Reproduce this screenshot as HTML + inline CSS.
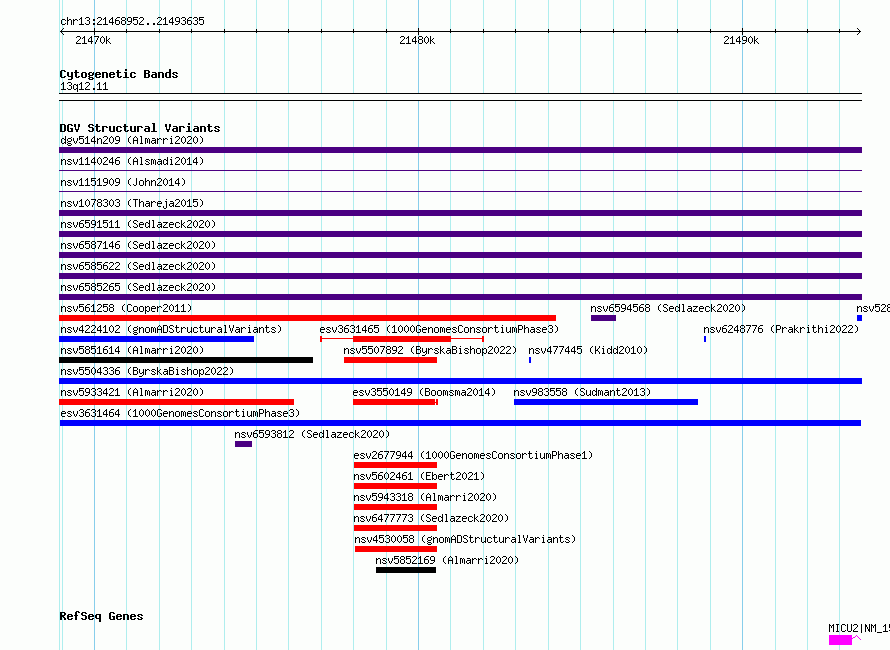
<!DOCTYPE html>
<html><head><meta charset="utf-8"><title>GBrowse</title>
<style>
html,body{margin:0;padding:0;background:#fcfefc;overflow:hidden;}
body{width:890px;height:650px;overflow:hidden;}
svg{display:block;}
svg text{font-family:"Liberation Mono",monospace;fill:transparent;white-space:pre;}
</style></head><body>
<svg width="890" height="650" viewBox="0 0 890 650" shape-rendering="crispEdges">
<defs>
<path id="s63" d="M1 5h3v1h-3zM0 6h1v1h-1zM4 6h1v1h-1zM0 7h1v1h-1zM0 8h1v1h-1zM0 9h1v1h-1zM4 9h1v1h-1zM1 10h3v1h-3z"/>
<path id="s68" d="M0 3h1v1h-1zM0 4h1v1h-1zM0 5h1v1h-1zM2 5h2v1h-2zM0 6h2v1h-2zM4 6h1v1h-1zM0 7h1v1h-1zM4 7h1v1h-1zM0 8h1v1h-1zM4 8h1v1h-1zM0 9h1v1h-1zM4 9h1v1h-1zM0 10h1v1h-1zM4 10h1v1h-1z"/>
<path id="s72" d="M0 5h1v1h-1zM2 5h2v1h-2zM0 6h2v1h-2zM4 6h1v1h-1zM0 7h1v1h-1zM0 8h1v1h-1zM0 9h1v1h-1zM0 10h1v1h-1z"/>
<path id="s31" d="M2 3h1v1h-1zM1 4h2v1h-2zM0 5h1v1h-1zM2 5h1v1h-1zM2 6h1v1h-1zM2 7h1v1h-1zM2 8h1v1h-1zM2 9h1v1h-1zM0 10h5v1h-5z"/>
<path id="s33" d="M1 3h3v1h-3zM0 4h1v1h-1zM4 4h1v1h-1zM4 5h1v1h-1zM2 6h2v1h-2zM4 7h1v1h-1zM4 8h1v1h-1zM0 9h1v1h-1zM4 9h1v1h-1zM1 10h3v1h-3z"/>
<path id="s3a" d="M2 5h2v1h-2zM2 6h2v1h-2zM2 9h2v1h-2zM2 10h2v1h-2z"/>
<path id="s32" d="M1 3h3v1h-3zM0 4h1v1h-1zM4 4h1v1h-1zM4 5h1v1h-1zM3 6h1v1h-1zM2 7h1v1h-1zM1 8h1v1h-1zM0 9h1v1h-1zM0 10h5v1h-5z"/>
<path id="s34" d="M3 3h1v1h-1zM2 4h2v1h-2zM1 5h1v1h-1zM3 5h1v1h-1zM0 6h1v1h-1zM3 6h1v1h-1zM0 7h1v1h-1zM3 7h1v1h-1zM0 8h5v1h-5zM3 9h1v1h-1zM3 10h1v1h-1z"/>
<path id="s36" d="M2 3h3v1h-3zM1 4h1v1h-1zM0 5h1v1h-1zM0 6h4v1h-4zM0 7h1v1h-1zM4 7h1v1h-1zM0 8h1v1h-1zM4 8h1v1h-1zM0 9h1v1h-1zM4 9h1v1h-1zM1 10h3v1h-3z"/>
<path id="s38" d="M1 3h3v1h-3zM0 4h1v1h-1zM4 4h1v1h-1zM0 5h1v1h-1zM4 5h1v1h-1zM1 6h3v1h-3zM0 7h1v1h-1zM4 7h1v1h-1zM0 8h1v1h-1zM4 8h1v1h-1zM0 9h1v1h-1zM4 9h1v1h-1zM1 10h3v1h-3z"/>
<path id="s39" d="M1 3h3v1h-3zM0 4h1v1h-1zM4 4h1v1h-1zM0 5h1v1h-1zM4 5h1v1h-1zM0 6h1v1h-1zM4 6h1v1h-1zM1 7h4v1h-4zM4 8h1v1h-1zM3 9h1v1h-1zM0 10h3v1h-3z"/>
<path id="s35" d="M0 3h5v1h-5zM0 4h1v1h-1zM0 5h4v1h-4zM0 6h1v1h-1zM4 6h1v1h-1zM4 7h1v1h-1zM4 8h1v1h-1zM0 9h1v1h-1zM4 9h1v1h-1zM1 10h3v1h-3z"/>
<path id="s2e" d="M2 9h2v1h-2zM2 10h2v1h-2z"/>
<path id="s37" d="M0 3h5v1h-5zM4 4h1v1h-1zM3 5h1v1h-1zM3 6h1v1h-1zM2 7h1v1h-1zM2 8h1v1h-1zM1 9h1v1h-1zM1 10h1v1h-1z"/>
<path id="s30" d="M2 3h1v1h-1zM1 4h1v1h-1zM3 4h1v1h-1zM0 5h1v1h-1zM4 5h1v1h-1zM0 6h1v1h-1zM4 6h1v1h-1zM0 7h1v1h-1zM4 7h1v1h-1zM0 8h1v1h-1zM4 8h1v1h-1zM1 9h1v1h-1zM3 9h1v1h-1zM2 10h1v1h-1z"/>
<path id="s6b" d="M0 3h1v1h-1zM0 4h1v1h-1zM0 5h1v1h-1zM3 5h1v1h-1zM0 6h1v1h-1zM2 6h1v1h-1zM0 7h2v1h-2zM0 8h1v1h-1zM2 8h1v1h-1zM0 9h1v1h-1zM3 9h1v1h-1zM0 10h1v1h-1zM4 10h1v1h-1z"/>
<path id="b43" d="M1 3h4v1h-4zM0 4h2v1h-2zM4 4h2v1h-2zM0 5h2v1h-2zM0 6h2v1h-2zM0 7h2v1h-2zM0 8h2v1h-2zM0 9h2v1h-2zM4 9h2v1h-2zM1 10h4v1h-4z"/>
<path id="b79" d="M0 5h2v1h-2zM4 5h2v1h-2zM0 6h2v1h-2zM4 6h2v1h-2zM0 7h2v1h-2zM4 7h2v1h-2zM0 8h2v1h-2zM4 8h2v1h-2zM1 9h5v1h-5zM4 10h2v1h-2zM4 11h2v1h-2zM1 12h4v1h-4z"/>
<path id="b74" d="M1 3h2v1h-2zM1 4h2v1h-2zM0 5h5v1h-5zM1 6h2v1h-2zM1 7h2v1h-2zM1 8h2v1h-2zM1 9h2v1h-2zM4 9h2v1h-2zM2 10h3v1h-3z"/>
<path id="b6f" d="M1 5h4v1h-4zM0 6h2v1h-2zM4 6h2v1h-2zM0 7h2v1h-2zM4 7h2v1h-2zM0 8h2v1h-2zM4 8h2v1h-2zM0 9h2v1h-2zM4 9h2v1h-2zM1 10h4v1h-4z"/>
<path id="b67" d="M1 5h3v1h-3zM5 5h1v1h-1zM0 6h2v1h-2zM4 6h2v1h-2zM0 7h2v1h-2zM4 7h2v1h-2zM1 8h4v1h-4zM0 9h2v1h-2zM1 10h4v1h-4zM0 11h2v1h-2zM4 11h2v1h-2zM1 12h4v1h-4z"/>
<path id="b65" d="M1 5h4v1h-4zM0 6h2v1h-2zM4 6h2v1h-2zM0 7h6v1h-6zM0 8h2v1h-2zM0 9h2v1h-2zM4 9h2v1h-2zM1 10h4v1h-4z"/>
<path id="b6e" d="M0 5h5v1h-5zM0 6h2v1h-2zM4 6h2v1h-2zM0 7h2v1h-2zM4 7h2v1h-2zM0 8h2v1h-2zM4 8h2v1h-2zM0 9h2v1h-2zM4 9h2v1h-2zM0 10h2v1h-2zM4 10h2v1h-2z"/>
<path id="b69" d="M2 2h2v1h-2zM2 3h2v1h-2zM1 5h3v1h-3zM2 6h2v1h-2zM2 7h2v1h-2zM2 8h2v1h-2zM2 9h2v1h-2zM0 10h6v1h-6z"/>
<path id="b63" d="M1 5h4v1h-4zM0 6h2v1h-2zM4 6h2v1h-2zM0 7h2v1h-2zM0 8h2v1h-2zM0 9h2v1h-2zM4 9h2v1h-2zM1 10h4v1h-4z"/>
<path id="b42" d="M0 3h5v1h-5zM0 4h2v1h-2zM4 4h2v1h-2zM0 5h2v1h-2zM4 5h2v1h-2zM0 6h5v1h-5zM0 7h2v1h-2zM4 7h2v1h-2zM0 8h2v1h-2zM4 8h2v1h-2zM0 9h2v1h-2zM4 9h2v1h-2zM0 10h5v1h-5z"/>
<path id="b61" d="M1 5h4v1h-4zM4 6h2v1h-2zM1 7h5v1h-5zM0 8h2v1h-2zM4 8h2v1h-2zM0 9h2v1h-2zM4 9h2v1h-2zM1 10h5v1h-5z"/>
<path id="b64" d="M4 2h2v1h-2zM4 3h2v1h-2zM4 4h2v1h-2zM1 5h5v1h-5zM0 6h2v1h-2zM4 6h2v1h-2zM0 7h2v1h-2zM4 7h2v1h-2zM0 8h2v1h-2zM4 8h2v1h-2zM0 9h2v1h-2zM4 9h2v1h-2zM1 10h5v1h-5z"/>
<path id="b73" d="M1 5h4v1h-4zM0 6h2v1h-2zM4 6h2v1h-2zM1 7h2v1h-2zM3 8h2v1h-2zM0 9h2v1h-2zM4 9h2v1h-2zM1 10h4v1h-4z"/>
<path id="s71" d="M1 5h2v1h-2zM4 5h1v1h-1zM0 6h1v1h-1zM3 6h2v1h-2zM0 7h1v1h-1zM4 7h1v1h-1zM0 8h1v1h-1zM4 8h1v1h-1zM0 9h1v1h-1zM3 9h2v1h-2zM1 10h2v1h-2zM4 10h1v1h-1zM4 11h1v1h-1zM4 12h1v1h-1z"/>
<path id="b44" d="M0 3h5v1h-5zM0 4h2v1h-2zM4 4h2v1h-2zM0 5h2v1h-2zM4 5h2v1h-2zM0 6h2v1h-2zM4 6h2v1h-2zM0 7h2v1h-2zM4 7h2v1h-2zM0 8h2v1h-2zM4 8h2v1h-2zM0 9h2v1h-2zM4 9h2v1h-2zM0 10h5v1h-5z"/>
<path id="b47" d="M1 3h4v1h-4zM0 4h2v1h-2zM4 4h2v1h-2zM0 5h2v1h-2zM0 6h2v1h-2zM0 7h2v1h-2zM3 7h3v1h-3zM0 8h2v1h-2zM4 8h2v1h-2zM0 9h2v1h-2zM4 9h2v1h-2zM1 10h5v1h-5z"/>
<path id="b56" d="M0 3h2v1h-2zM4 3h2v1h-2zM0 4h2v1h-2zM4 4h2v1h-2zM0 5h2v1h-2zM4 5h2v1h-2zM1 6h1v1h-1zM4 6h1v1h-1zM1 7h1v1h-1zM4 7h1v1h-1zM1 8h4v1h-4zM2 9h2v1h-2zM2 10h2v1h-2z"/>
<path id="b53" d="M1 3h4v1h-4zM0 4h2v1h-2zM4 4h2v1h-2zM0 5h2v1h-2zM1 6h4v1h-4zM4 7h2v1h-2zM4 8h2v1h-2zM0 9h2v1h-2zM4 9h2v1h-2zM1 10h4v1h-4z"/>
<path id="b72" d="M0 5h5v1h-5zM0 6h2v1h-2zM4 6h2v1h-2zM0 7h2v1h-2zM0 8h2v1h-2zM0 9h2v1h-2zM0 10h2v1h-2z"/>
<path id="b75" d="M0 5h2v1h-2zM4 5h2v1h-2zM0 6h2v1h-2zM4 6h2v1h-2zM0 7h2v1h-2zM4 7h2v1h-2zM0 8h2v1h-2zM4 8h2v1h-2zM0 9h2v1h-2zM4 9h2v1h-2zM1 10h5v1h-5z"/>
<path id="b6c" d="M1 2h3v1h-3zM2 3h2v1h-2zM2 4h2v1h-2zM2 5h2v1h-2zM2 6h2v1h-2zM2 7h2v1h-2zM2 8h2v1h-2zM2 9h2v1h-2zM0 10h6v1h-6z"/>
<path id="s64" d="M4 3h1v1h-1zM4 4h1v1h-1zM1 5h2v1h-2zM4 5h1v1h-1zM0 6h1v1h-1zM3 6h2v1h-2zM0 7h1v1h-1zM4 7h1v1h-1zM0 8h1v1h-1zM4 8h1v1h-1zM0 9h1v1h-1zM3 9h2v1h-2zM1 10h2v1h-2zM4 10h1v1h-1z"/>
<path id="s67" d="M4 4h1v1h-1zM1 5h3v1h-3zM0 6h1v1h-1zM4 6h1v1h-1zM0 7h1v1h-1zM4 7h1v1h-1zM1 8h3v1h-3zM0 9h1v1h-1zM1 10h3v1h-3zM0 11h1v1h-1zM4 11h1v1h-1zM1 12h3v1h-3z"/>
<path id="s76" d="M0 5h1v1h-1zM4 5h1v1h-1zM0 6h1v1h-1zM4 6h1v1h-1zM0 7h1v1h-1zM4 7h1v1h-1zM1 8h1v1h-1zM3 8h1v1h-1zM1 9h1v1h-1zM3 9h1v1h-1zM2 10h1v1h-1z"/>
<path id="s6e" d="M0 5h1v1h-1zM2 5h2v1h-2zM0 6h2v1h-2zM4 6h1v1h-1zM0 7h1v1h-1zM4 7h1v1h-1zM0 8h1v1h-1zM4 8h1v1h-1zM0 9h1v1h-1zM4 9h1v1h-1zM0 10h1v1h-1zM4 10h1v1h-1z"/>
<path id="s28" d="M3 3h1v1h-1zM2 4h1v1h-1zM1 5h1v1h-1zM1 6h1v1h-1zM1 7h1v1h-1zM1 8h1v1h-1zM2 9h1v1h-1zM3 10h1v1h-1z"/>
<path id="s41" d="M2 3h1v1h-1zM1 4h1v1h-1zM3 4h1v1h-1zM0 5h1v1h-1zM4 5h1v1h-1zM0 6h1v1h-1zM4 6h1v1h-1zM0 7h5v1h-5zM0 8h1v1h-1zM4 8h1v1h-1zM0 9h1v1h-1zM4 9h1v1h-1zM0 10h1v1h-1zM4 10h1v1h-1z"/>
<path id="s6c" d="M1 3h2v1h-2zM2 4h1v1h-1zM2 5h1v1h-1zM2 6h1v1h-1zM2 7h1v1h-1zM2 8h1v1h-1zM2 9h1v1h-1zM1 10h3v1h-3z"/>
<path id="s6d" d="M0 5h2v1h-2zM3 5h1v1h-1zM0 6h1v1h-1zM2 6h1v1h-1zM4 6h1v1h-1zM0 7h1v1h-1zM2 7h1v1h-1zM4 7h1v1h-1zM0 8h1v1h-1zM2 8h1v1h-1zM4 8h1v1h-1zM0 9h1v1h-1zM2 9h1v1h-1zM4 9h1v1h-1zM0 10h1v1h-1zM4 10h1v1h-1z"/>
<path id="s61" d="M1 5h3v1h-3zM4 6h1v1h-1zM1 7h4v1h-4zM0 8h1v1h-1zM4 8h1v1h-1zM0 9h1v1h-1zM3 9h2v1h-2zM1 10h2v1h-2zM4 10h1v1h-1z"/>
<path id="s69" d="M2 3h1v1h-1zM1 5h2v1h-2zM2 6h1v1h-1zM2 7h1v1h-1zM2 8h1v1h-1zM2 9h1v1h-1zM1 10h3v1h-3z"/>
<path id="s29" d="M1 3h1v1h-1zM2 4h1v1h-1zM3 5h1v1h-1zM3 6h1v1h-1zM3 7h1v1h-1zM3 8h1v1h-1zM2 9h1v1h-1zM1 10h1v1h-1z"/>
<path id="s73" d="M1 5h3v1h-3zM0 6h1v1h-1zM4 6h1v1h-1zM1 7h2v1h-2zM3 8h1v1h-1zM0 9h1v1h-1zM4 9h1v1h-1zM1 10h3v1h-3z"/>
<path id="s4a" d="M3 3h1v1h-1zM3 4h1v1h-1zM3 5h1v1h-1zM3 6h1v1h-1zM3 7h1v1h-1zM3 8h1v1h-1zM0 9h1v1h-1zM3 9h1v1h-1zM1 10h2v1h-2z"/>
<path id="s6f" d="M1 5h3v1h-3zM0 6h1v1h-1zM4 6h1v1h-1zM0 7h1v1h-1zM4 7h1v1h-1zM0 8h1v1h-1zM4 8h1v1h-1zM0 9h1v1h-1zM4 9h1v1h-1zM1 10h3v1h-3z"/>
<path id="s54" d="M0 3h5v1h-5zM2 4h1v1h-1zM2 5h1v1h-1zM2 6h1v1h-1zM2 7h1v1h-1zM2 8h1v1h-1zM2 9h1v1h-1zM2 10h1v1h-1z"/>
<path id="s65" d="M1 5h3v1h-3zM0 6h1v1h-1zM4 6h1v1h-1zM0 7h5v1h-5zM0 8h1v1h-1zM0 9h1v1h-1zM1 10h3v1h-3z"/>
<path id="s6a" d="M3 3h1v1h-1zM2 5h2v1h-2zM3 6h1v1h-1zM3 7h1v1h-1zM3 8h1v1h-1zM3 9h1v1h-1zM0 10h1v1h-1zM3 10h1v1h-1zM0 11h1v1h-1zM3 11h1v1h-1zM1 12h2v1h-2z"/>
<path id="s53" d="M1 3h3v1h-3zM0 4h1v1h-1zM4 4h1v1h-1zM0 5h1v1h-1zM1 6h2v1h-2zM3 7h1v1h-1zM4 8h1v1h-1zM0 9h1v1h-1zM4 9h1v1h-1zM1 10h3v1h-3z"/>
<path id="s7a" d="M0 5h5v1h-5zM3 6h1v1h-1zM2 7h1v1h-1zM1 8h1v1h-1zM0 9h1v1h-1zM0 10h5v1h-5z"/>
<path id="s43" d="M1 3h3v1h-3zM0 4h1v1h-1zM4 4h1v1h-1zM0 5h1v1h-1zM0 6h1v1h-1zM0 7h1v1h-1zM0 8h1v1h-1zM0 9h1v1h-1zM4 9h1v1h-1zM1 10h3v1h-3z"/>
<path id="s70" d="M0 5h1v1h-1zM2 5h2v1h-2zM0 6h2v1h-2zM4 6h1v1h-1zM0 7h1v1h-1zM4 7h1v1h-1zM0 8h1v1h-1zM4 8h1v1h-1zM0 9h2v1h-2zM4 9h1v1h-1zM0 10h1v1h-1zM2 10h2v1h-2zM0 11h1v1h-1zM0 12h1v1h-1z"/>
<path id="s44" d="M0 3h4v1h-4zM0 4h1v1h-1zM4 4h1v1h-1zM0 5h1v1h-1zM4 5h1v1h-1zM0 6h1v1h-1zM4 6h1v1h-1zM0 7h1v1h-1zM4 7h1v1h-1zM0 8h1v1h-1zM4 8h1v1h-1zM0 9h1v1h-1zM4 9h1v1h-1zM0 10h4v1h-4z"/>
<path id="s74" d="M1 3h1v1h-1zM1 4h1v1h-1zM0 5h4v1h-4zM1 6h1v1h-1zM1 7h1v1h-1zM1 8h1v1h-1zM1 9h1v1h-1zM4 9h1v1h-1zM2 10h2v1h-2z"/>
<path id="s75" d="M0 5h1v1h-1zM4 5h1v1h-1zM0 6h1v1h-1zM4 6h1v1h-1zM0 7h1v1h-1zM4 7h1v1h-1zM0 8h1v1h-1zM4 8h1v1h-1zM0 9h1v1h-1zM3 9h2v1h-2zM1 10h2v1h-2zM4 10h1v1h-1z"/>
<path id="s56" d="M0 3h1v1h-1zM4 3h1v1h-1zM0 4h1v1h-1zM4 4h1v1h-1zM0 5h1v1h-1zM4 5h1v1h-1zM1 6h1v1h-1zM3 6h1v1h-1zM1 7h1v1h-1zM3 7h1v1h-1zM1 8h1v1h-1zM3 8h1v1h-1zM2 9h1v1h-1zM2 10h1v1h-1z"/>
<path id="s47" d="M1 3h3v1h-3zM0 4h1v1h-1zM4 4h1v1h-1zM0 5h1v1h-1zM0 6h1v1h-1zM0 7h1v1h-1zM3 7h2v1h-2zM0 8h1v1h-1zM4 8h1v1h-1zM0 9h1v1h-1zM4 9h1v1h-1zM1 10h3v1h-3z"/>
<path id="s50" d="M0 3h4v1h-4zM0 4h1v1h-1zM4 4h1v1h-1zM0 5h1v1h-1zM4 5h1v1h-1zM0 6h1v1h-1zM4 6h1v1h-1zM0 7h4v1h-4zM0 8h1v1h-1zM0 9h1v1h-1zM0 10h1v1h-1z"/>
<path id="s42" d="M0 3h4v1h-4zM0 4h1v1h-1zM4 4h1v1h-1zM0 5h1v1h-1zM4 5h1v1h-1zM0 6h4v1h-4zM0 7h1v1h-1zM4 7h1v1h-1zM0 8h1v1h-1zM4 8h1v1h-1zM0 9h1v1h-1zM4 9h1v1h-1zM0 10h4v1h-4z"/>
<path id="s79" d="M0 5h1v1h-1zM4 5h1v1h-1zM0 6h1v1h-1zM4 6h1v1h-1zM0 7h1v1h-1zM4 7h1v1h-1zM0 8h1v1h-1zM3 8h2v1h-2zM1 9h2v1h-2zM4 9h1v1h-1zM4 10h1v1h-1zM3 11h1v1h-1zM0 12h3v1h-3z"/>
<path id="s4b" d="M0 3h1v1h-1zM4 3h1v1h-1zM0 4h1v1h-1zM4 4h1v1h-1zM0 5h1v1h-1zM3 5h1v1h-1zM0 6h1v1h-1zM2 6h1v1h-1zM0 7h3v1h-3zM0 8h1v1h-1zM3 8h1v1h-1zM0 9h1v1h-1zM4 9h1v1h-1zM0 10h1v1h-1zM4 10h1v1h-1z"/>
<path id="s45" d="M0 3h5v1h-5zM0 4h1v1h-1zM0 5h1v1h-1zM0 6h4v1h-4zM0 7h1v1h-1zM0 8h1v1h-1zM0 9h1v1h-1zM0 10h5v1h-5z"/>
<path id="s62" d="M0 3h1v1h-1zM0 4h1v1h-1zM0 5h1v1h-1zM2 5h2v1h-2zM0 6h2v1h-2zM4 6h1v1h-1zM0 7h1v1h-1zM4 7h1v1h-1zM0 8h1v1h-1zM4 8h1v1h-1zM0 9h2v1h-2zM4 9h1v1h-1zM0 10h1v1h-1zM2 10h2v1h-2z"/>
<path id="b52" d="M0 3h5v1h-5zM0 4h2v1h-2zM4 4h2v1h-2zM0 5h2v1h-2zM4 5h2v1h-2zM0 6h5v1h-5zM0 7h4v1h-4zM0 8h2v1h-2zM3 8h2v1h-2zM0 9h2v1h-2zM4 9h2v1h-2zM0 10h2v1h-2zM4 10h2v1h-2z"/>
<path id="b66" d="M2 2h3v1h-3zM1 3h2v1h-2zM4 3h2v1h-2zM1 4h2v1h-2zM1 5h2v1h-2zM0 6h4v1h-4zM1 7h2v1h-2zM1 8h2v1h-2zM1 9h2v1h-2zM1 10h2v1h-2z"/>
<path id="b71" d="M1 5h5v1h-5zM0 6h2v1h-2zM4 6h2v1h-2zM0 7h2v1h-2zM4 7h2v1h-2zM0 8h2v1h-2zM4 8h2v1h-2zM1 9h5v1h-5zM4 10h2v1h-2zM4 11h2v1h-2zM4 12h2v1h-2z"/>
<path id="s4d" d="M0 3h1v1h-1zM4 3h1v1h-1zM0 4h2v1h-2zM3 4h2v1h-2zM0 5h1v1h-1zM2 5h1v1h-1zM4 5h1v1h-1zM0 6h1v1h-1zM2 6h1v1h-1zM4 6h1v1h-1zM0 7h1v1h-1zM4 7h1v1h-1zM0 8h1v1h-1zM4 8h1v1h-1zM0 9h1v1h-1zM4 9h1v1h-1zM0 10h1v1h-1zM4 10h1v1h-1z"/>
<path id="s49" d="M1 3h3v1h-3zM2 4h1v1h-1zM2 5h1v1h-1zM2 6h1v1h-1zM2 7h1v1h-1zM2 8h1v1h-1zM2 9h1v1h-1zM1 10h3v1h-3z"/>
<path id="s55" d="M0 3h1v1h-1zM4 3h1v1h-1zM0 4h1v1h-1zM4 4h1v1h-1zM0 5h1v1h-1zM4 5h1v1h-1zM0 6h1v1h-1zM4 6h1v1h-1zM0 7h1v1h-1zM4 7h1v1h-1zM0 8h1v1h-1zM4 8h1v1h-1zM0 9h1v1h-1zM4 9h1v1h-1zM1 10h3v1h-3z"/>
<path id="s7c" d="M2 3h1v1h-1zM2 4h1v1h-1zM2 5h1v1h-1zM2 6h1v1h-1zM2 7h1v1h-1zM2 8h1v1h-1zM2 9h1v1h-1zM2 10h1v1h-1zM2 11h1v1h-1z"/>
<path id="s4e" d="M0 3h1v1h-1zM4 3h1v1h-1zM0 4h2v1h-2zM4 4h1v1h-1zM0 5h2v1h-2zM4 5h1v1h-1zM0 6h1v1h-1zM2 6h1v1h-1zM4 6h1v1h-1zM0 7h1v1h-1zM2 7h1v1h-1zM4 7h1v1h-1zM0 8h1v1h-1zM3 8h2v1h-2zM0 9h1v1h-1zM3 9h2v1h-2zM0 10h1v1h-1zM4 10h1v1h-1z"/>
<path id="s5f" d="M0 11h5v1h-5z"/>
</defs>
<rect x="0" y="0" width="890" height="650" fill="#fcfefc"/>
<g>
<rect x="59" y="0" width="1" height="650" fill="#afeeee"/>
<rect x="62" y="0" width="1" height="650" fill="#afeeee"/>
<rect x="126" y="0" width="1" height="650" fill="#afeeee"/>
<rect x="159" y="0" width="1" height="650" fill="#afeeee"/>
<rect x="191" y="0" width="1" height="650" fill="#afeeee"/>
<rect x="224" y="0" width="1" height="650" fill="#afeeee"/>
<rect x="256" y="0" width="1" height="650" fill="#afeeee"/>
<rect x="288" y="0" width="1" height="650" fill="#afeeee"/>
<rect x="321" y="0" width="1" height="650" fill="#afeeee"/>
<rect x="353" y="0" width="1" height="650" fill="#afeeee"/>
<rect x="386" y="0" width="1" height="650" fill="#afeeee"/>
<rect x="450" y="0" width="1" height="650" fill="#afeeee"/>
<rect x="483" y="0" width="1" height="650" fill="#afeeee"/>
<rect x="515" y="0" width="1" height="650" fill="#afeeee"/>
<rect x="548" y="0" width="1" height="650" fill="#afeeee"/>
<rect x="580" y="0" width="1" height="650" fill="#afeeee"/>
<rect x="613" y="0" width="1" height="650" fill="#afeeee"/>
<rect x="645" y="0" width="1" height="650" fill="#afeeee"/>
<rect x="677" y="0" width="1" height="650" fill="#afeeee"/>
<rect x="710" y="0" width="1" height="650" fill="#afeeee"/>
<rect x="775" y="0" width="1" height="650" fill="#afeeee"/>
<rect x="807" y="0" width="1" height="650" fill="#afeeee"/>
<rect x="839" y="0" width="1" height="650" fill="#afeeee"/>
<rect x="94" y="0" width="1" height="650" fill="#87ceeb"/>
<rect x="418" y="0" width="1" height="650" fill="#87ceeb"/>
<rect x="742" y="0" width="1" height="650" fill="#87ceeb"/>
<rect x="60" y="31" width="801" height="1" fill="#000000"/>
<rect x="61" y="30" width="1" height="1" fill="#000000"/>
<rect x="61" y="32" width="1" height="1" fill="#000000"/>
<rect x="859" y="30" width="1" height="1" fill="#000000"/>
<rect x="859" y="32" width="1" height="1" fill="#000000"/>
<rect x="62" y="29" width="1" height="1" fill="#000000"/>
<rect x="62" y="33" width="1" height="1" fill="#000000"/>
<rect x="858" y="29" width="1" height="1" fill="#000000"/>
<rect x="858" y="33" width="1" height="1" fill="#000000"/>
<rect x="63" y="28" width="1" height="1" fill="#000000"/>
<rect x="63" y="34" width="1" height="1" fill="#000000"/>
<rect x="857" y="28" width="1" height="1" fill="#000000"/>
<rect x="857" y="34" width="1" height="1" fill="#000000"/>
<rect x="126" y="29" width="1" height="4" fill="#000000"/>
<rect x="159" y="29" width="1" height="4" fill="#000000"/>
<rect x="191" y="29" width="1" height="4" fill="#000000"/>
<rect x="224" y="29" width="1" height="4" fill="#000000"/>
<rect x="256" y="29" width="1" height="4" fill="#000000"/>
<rect x="288" y="29" width="1" height="4" fill="#000000"/>
<rect x="321" y="29" width="1" height="4" fill="#000000"/>
<rect x="353" y="29" width="1" height="4" fill="#000000"/>
<rect x="386" y="29" width="1" height="4" fill="#000000"/>
<rect x="450" y="29" width="1" height="4" fill="#000000"/>
<rect x="483" y="29" width="1" height="4" fill="#000000"/>
<rect x="515" y="29" width="1" height="4" fill="#000000"/>
<rect x="548" y="29" width="1" height="4" fill="#000000"/>
<rect x="580" y="29" width="1" height="4" fill="#000000"/>
<rect x="613" y="29" width="1" height="4" fill="#000000"/>
<rect x="645" y="29" width="1" height="4" fill="#000000"/>
<rect x="677" y="29" width="1" height="4" fill="#000000"/>
<rect x="710" y="29" width="1" height="4" fill="#000000"/>
<rect x="775" y="29" width="1" height="4" fill="#000000"/>
<rect x="807" y="29" width="1" height="4" fill="#000000"/>
<rect x="839" y="29" width="1" height="4" fill="#000000"/>
<rect x="94" y="28" width="1" height="7" fill="#000000"/>
<rect x="418" y="28" width="1" height="7" fill="#000000"/>
<rect x="742" y="28" width="1" height="7" fill="#000000"/>
<rect x="59" y="93" width="803" height="8" fill="#fcfefc"/>
<rect x="59" y="93" width="803" height="1" fill="#000000"/>
<rect x="59" y="100" width="803" height="1" fill="#000000"/>
<rect x="59" y="147" width="803" height="6" fill="#4b0082"/>
<rect x="59" y="170" width="803" height="1" fill="#4b0082"/>
<rect x="59" y="191" width="803" height="1" fill="#4b0082"/>
<rect x="59" y="210" width="803" height="6" fill="#4b0082"/>
<rect x="59" y="231" width="803" height="6" fill="#4b0082"/>
<rect x="59" y="252" width="803" height="6" fill="#4b0082"/>
<rect x="59" y="273" width="803" height="6" fill="#4b0082"/>
<rect x="59" y="294" width="803" height="6" fill="#4b0082"/>
<rect x="59" y="315" width="497" height="6" fill="#ff0000"/>
<rect x="591" y="315" width="25" height="6" fill="#4b0082"/>
<rect x="857" y="315" width="5" height="6" fill="#0000ff"/>
<rect x="59" y="336" width="195" height="6" fill="#0000ff"/>
<rect x="320" y="336" width="2" height="6" fill="#ff0000"/>
<rect x="322" y="338" width="160" height="1" fill="#ff0000"/>
<rect x="353" y="336" width="98" height="6" fill="#ff0000"/>
<rect x="482" y="336" width="2" height="6" fill="#ff0000"/>
<rect x="704" y="336" width="2" height="6" fill="#0000ff"/>
<rect x="59" y="357" width="254" height="6" fill="#000000"/>
<rect x="344" y="357" width="93" height="6" fill="#ff0000"/>
<rect x="529" y="357" width="2" height="6" fill="#0000ff"/>
<rect x="59" y="378" width="803" height="6" fill="#0000ff"/>
<rect x="59" y="399" width="235" height="6" fill="#ff0000"/>
<rect x="353" y="399" width="82" height="6" fill="#ff0000"/>
<rect x="435" y="402" width="1" height="1" fill="#ff0000"/>
<rect x="436" y="399" width="2" height="6" fill="#ff0000"/>
<rect x="514" y="399" width="184" height="6" fill="#0000ff"/>
<rect x="60" y="420" width="801" height="6" fill="#0000ff"/>
<rect x="235" y="441" width="17" height="6" fill="#4b0082"/>
<rect x="354" y="462" width="83" height="6" fill="#ff0000"/>
<rect x="354" y="483" width="83" height="6" fill="#ff0000"/>
<rect x="354" y="504" width="83" height="6" fill="#ff0000"/>
<rect x="354" y="525" width="83" height="6" fill="#ff0000"/>
<rect x="355" y="546" width="82" height="6" fill="#ff0000"/>
<rect x="376" y="567" width="60" height="6" fill="#000000"/>
<rect x="829" y="635" width="23" height="10" fill="#ff00ff"/>
<rect x="852" y="638" width="1" height="1" fill="#ff00ff"/>
<rect x="853" y="637" width="1" height="1" fill="#ff00ff"/>
<rect x="854" y="637" width="1" height="1" fill="#ff00ff"/>
<rect x="855" y="636" width="1" height="1" fill="#ff00ff"/>
<rect x="856" y="635" width="1" height="1" fill="#ff00ff"/>
<rect x="857" y="636" width="1" height="1" fill="#ff00ff"/>
<rect x="858" y="637" width="1" height="1" fill="#ff00ff"/>
<rect x="859" y="638" width="1" height="1" fill="#ff00ff"/>
<rect x="860" y="639" width="1" height="1" fill="#ff00ff"/>
</g>
<g fill="#000">
<g aria-label="chr13:21468952..21493635"><use href="#s63" x="61" y="14"/><use href="#s68" x="67" y="14"/><use href="#s72" x="73" y="14"/><use href="#s31" x="79" y="14"/><use href="#s33" x="85" y="14"/><use href="#s3a" x="91" y="14"/><use href="#s32" x="97" y="14"/><use href="#s31" x="103" y="14"/><use href="#s34" x="109" y="14"/><use href="#s36" x="115" y="14"/><use href="#s38" x="121" y="14"/><use href="#s39" x="127" y="14"/><use href="#s35" x="133" y="14"/><use href="#s32" x="139" y="14"/><use href="#s2e" x="145" y="14"/><use href="#s2e" x="151" y="14"/><use href="#s32" x="157" y="14"/><use href="#s31" x="163" y="14"/><use href="#s34" x="169" y="14"/><use href="#s39" x="175" y="14"/><use href="#s33" x="181" y="14"/><use href="#s36" x="187" y="14"/><use href="#s33" x="193" y="14"/><use href="#s35" x="199" y="14"/><text x="61" y="25" font-size="10" textLength="144" lengthAdjust="spacingAndGlyphs">chr13:21468952..21493635</text></g>
<g aria-label="21470k"><use href="#s32" x="76" y="33"/><use href="#s31" x="82" y="33"/><use href="#s34" x="88" y="33"/><use href="#s37" x="94" y="33"/><use href="#s30" x="100" y="33"/><use href="#s6b" x="106" y="33"/><text x="76" y="44" font-size="10" textLength="36" lengthAdjust="spacingAndGlyphs">21470k</text></g>
<g aria-label="21480k"><use href="#s32" x="400" y="33"/><use href="#s31" x="406" y="33"/><use href="#s34" x="412" y="33"/><use href="#s38" x="418" y="33"/><use href="#s30" x="424" y="33"/><use href="#s6b" x="430" y="33"/><text x="400" y="44" font-size="10" textLength="36" lengthAdjust="spacingAndGlyphs">21480k</text></g>
<g aria-label="21490k"><use href="#s32" x="724" y="33"/><use href="#s31" x="730" y="33"/><use href="#s34" x="736" y="33"/><use href="#s39" x="742" y="33"/><use href="#s30" x="748" y="33"/><use href="#s6b" x="754" y="33"/><text x="724" y="44" font-size="10" textLength="36" lengthAdjust="spacingAndGlyphs">21490k</text></g>
<g aria-label="Cytogenetic Bands"><use href="#b43" x="60" y="67"/><use href="#b79" x="67" y="67"/><use href="#b74" x="74" y="67"/><use href="#b6f" x="81" y="67"/><use href="#b67" x="88" y="67"/><use href="#b65" x="95" y="67"/><use href="#b6e" x="102" y="67"/><use href="#b65" x="109" y="67"/><use href="#b74" x="116" y="67"/><use href="#b69" x="123" y="67"/><use href="#b63" x="130" y="67"/><use href="#b42" x="144" y="67"/><use href="#b61" x="151" y="67"/><use href="#b6e" x="158" y="67"/><use href="#b64" x="165" y="67"/><use href="#b73" x="172" y="67"/><text x="60" y="78" font-size="11.67" font-weight="bold" textLength="119" lengthAdjust="spacingAndGlyphs">Cytogenetic Bands</text></g>
<g aria-label="13q12.11"><use href="#s31" x="61" y="79"/><use href="#s33" x="67" y="79"/><use href="#s71" x="73" y="79"/><use href="#s31" x="79" y="79"/><use href="#s32" x="85" y="79"/><use href="#s2e" x="91" y="79"/><use href="#s31" x="97" y="79"/><use href="#s31" x="103" y="79"/><text x="61" y="90" font-size="10" textLength="48" lengthAdjust="spacingAndGlyphs">13q12.11</text></g>
<g aria-label="DGV Structural Variants"><use href="#b44" x="60" y="121"/><use href="#b47" x="67" y="121"/><use href="#b56" x="74" y="121"/><use href="#b53" x="88" y="121"/><use href="#b74" x="95" y="121"/><use href="#b72" x="102" y="121"/><use href="#b75" x="109" y="121"/><use href="#b63" x="116" y="121"/><use href="#b74" x="123" y="121"/><use href="#b75" x="130" y="121"/><use href="#b72" x="137" y="121"/><use href="#b61" x="144" y="121"/><use href="#b6c" x="151" y="121"/><use href="#b56" x="165" y="121"/><use href="#b61" x="172" y="121"/><use href="#b72" x="179" y="121"/><use href="#b69" x="186" y="121"/><use href="#b61" x="193" y="121"/><use href="#b6e" x="200" y="121"/><use href="#b74" x="207" y="121"/><use href="#b73" x="214" y="121"/><text x="60" y="132" font-size="11.67" font-weight="bold" textLength="161" lengthAdjust="spacingAndGlyphs">DGV Structural Variants</text></g>
<g aria-label="dgv514n209 (Almarri2020)"><use href="#s64" x="61" y="133"/><use href="#s67" x="67" y="133"/><use href="#s76" x="73" y="133"/><use href="#s35" x="79" y="133"/><use href="#s31" x="85" y="133"/><use href="#s34" x="91" y="133"/><use href="#s6e" x="97" y="133"/><use href="#s32" x="103" y="133"/><use href="#s30" x="109" y="133"/><use href="#s39" x="115" y="133"/><use href="#s28" x="127" y="133"/><use href="#s41" x="133" y="133"/><use href="#s6c" x="139" y="133"/><use href="#s6d" x="145" y="133"/><use href="#s61" x="151" y="133"/><use href="#s72" x="157" y="133"/><use href="#s72" x="163" y="133"/><use href="#s69" x="169" y="133"/><use href="#s32" x="175" y="133"/><use href="#s30" x="181" y="133"/><use href="#s32" x="187" y="133"/><use href="#s30" x="193" y="133"/><use href="#s29" x="199" y="133"/><text x="61" y="144" font-size="10" textLength="144" lengthAdjust="spacingAndGlyphs">dgv514n209 (Almarri2020)</text></g>
<g aria-label="nsv1140246 (Alsmadi2014)"><use href="#s6e" x="61" y="154"/><use href="#s73" x="67" y="154"/><use href="#s76" x="73" y="154"/><use href="#s31" x="79" y="154"/><use href="#s31" x="85" y="154"/><use href="#s34" x="91" y="154"/><use href="#s30" x="97" y="154"/><use href="#s32" x="103" y="154"/><use href="#s34" x="109" y="154"/><use href="#s36" x="115" y="154"/><use href="#s28" x="127" y="154"/><use href="#s41" x="133" y="154"/><use href="#s6c" x="139" y="154"/><use href="#s73" x="145" y="154"/><use href="#s6d" x="151" y="154"/><use href="#s61" x="157" y="154"/><use href="#s64" x="163" y="154"/><use href="#s69" x="169" y="154"/><use href="#s32" x="175" y="154"/><use href="#s30" x="181" y="154"/><use href="#s31" x="187" y="154"/><use href="#s34" x="193" y="154"/><use href="#s29" x="199" y="154"/><text x="61" y="165" font-size="10" textLength="144" lengthAdjust="spacingAndGlyphs">nsv1140246 (Alsmadi2014)</text></g>
<g aria-label="nsv1151909 (John2014)"><use href="#s6e" x="61" y="175"/><use href="#s73" x="67" y="175"/><use href="#s76" x="73" y="175"/><use href="#s31" x="79" y="175"/><use href="#s31" x="85" y="175"/><use href="#s35" x="91" y="175"/><use href="#s31" x="97" y="175"/><use href="#s39" x="103" y="175"/><use href="#s30" x="109" y="175"/><use href="#s39" x="115" y="175"/><use href="#s28" x="127" y="175"/><use href="#s4a" x="133" y="175"/><use href="#s6f" x="139" y="175"/><use href="#s68" x="145" y="175"/><use href="#s6e" x="151" y="175"/><use href="#s32" x="157" y="175"/><use href="#s30" x="163" y="175"/><use href="#s31" x="169" y="175"/><use href="#s34" x="175" y="175"/><use href="#s29" x="181" y="175"/><text x="61" y="186" font-size="10" textLength="126" lengthAdjust="spacingAndGlyphs">nsv1151909 (John2014)</text></g>
<g aria-label="nsv1078303 (Thareja2015)"><use href="#s6e" x="61" y="196"/><use href="#s73" x="67" y="196"/><use href="#s76" x="73" y="196"/><use href="#s31" x="79" y="196"/><use href="#s30" x="85" y="196"/><use href="#s37" x="91" y="196"/><use href="#s38" x="97" y="196"/><use href="#s33" x="103" y="196"/><use href="#s30" x="109" y="196"/><use href="#s33" x="115" y="196"/><use href="#s28" x="127" y="196"/><use href="#s54" x="133" y="196"/><use href="#s68" x="139" y="196"/><use href="#s61" x="145" y="196"/><use href="#s72" x="151" y="196"/><use href="#s65" x="157" y="196"/><use href="#s6a" x="163" y="196"/><use href="#s61" x="169" y="196"/><use href="#s32" x="175" y="196"/><use href="#s30" x="181" y="196"/><use href="#s31" x="187" y="196"/><use href="#s35" x="193" y="196"/><use href="#s29" x="199" y="196"/><text x="61" y="207" font-size="10" textLength="144" lengthAdjust="spacingAndGlyphs">nsv1078303 (Thareja2015)</text></g>
<g aria-label="nsv6591511 (Sedlazeck2020)"><use href="#s6e" x="61" y="217"/><use href="#s73" x="67" y="217"/><use href="#s76" x="73" y="217"/><use href="#s36" x="79" y="217"/><use href="#s35" x="85" y="217"/><use href="#s39" x="91" y="217"/><use href="#s31" x="97" y="217"/><use href="#s35" x="103" y="217"/><use href="#s31" x="109" y="217"/><use href="#s31" x="115" y="217"/><use href="#s28" x="127" y="217"/><use href="#s53" x="133" y="217"/><use href="#s65" x="139" y="217"/><use href="#s64" x="145" y="217"/><use href="#s6c" x="151" y="217"/><use href="#s61" x="157" y="217"/><use href="#s7a" x="163" y="217"/><use href="#s65" x="169" y="217"/><use href="#s63" x="175" y="217"/><use href="#s6b" x="181" y="217"/><use href="#s32" x="187" y="217"/><use href="#s30" x="193" y="217"/><use href="#s32" x="199" y="217"/><use href="#s30" x="205" y="217"/><use href="#s29" x="211" y="217"/><text x="61" y="228" font-size="10" textLength="156" lengthAdjust="spacingAndGlyphs">nsv6591511 (Sedlazeck2020)</text></g>
<g aria-label="nsv6587146 (Sedlazeck2020)"><use href="#s6e" x="61" y="238"/><use href="#s73" x="67" y="238"/><use href="#s76" x="73" y="238"/><use href="#s36" x="79" y="238"/><use href="#s35" x="85" y="238"/><use href="#s38" x="91" y="238"/><use href="#s37" x="97" y="238"/><use href="#s31" x="103" y="238"/><use href="#s34" x="109" y="238"/><use href="#s36" x="115" y="238"/><use href="#s28" x="127" y="238"/><use href="#s53" x="133" y="238"/><use href="#s65" x="139" y="238"/><use href="#s64" x="145" y="238"/><use href="#s6c" x="151" y="238"/><use href="#s61" x="157" y="238"/><use href="#s7a" x="163" y="238"/><use href="#s65" x="169" y="238"/><use href="#s63" x="175" y="238"/><use href="#s6b" x="181" y="238"/><use href="#s32" x="187" y="238"/><use href="#s30" x="193" y="238"/><use href="#s32" x="199" y="238"/><use href="#s30" x="205" y="238"/><use href="#s29" x="211" y="238"/><text x="61" y="249" font-size="10" textLength="156" lengthAdjust="spacingAndGlyphs">nsv6587146 (Sedlazeck2020)</text></g>
<g aria-label="nsv6585622 (Sedlazeck2020)"><use href="#s6e" x="61" y="259"/><use href="#s73" x="67" y="259"/><use href="#s76" x="73" y="259"/><use href="#s36" x="79" y="259"/><use href="#s35" x="85" y="259"/><use href="#s38" x="91" y="259"/><use href="#s35" x="97" y="259"/><use href="#s36" x="103" y="259"/><use href="#s32" x="109" y="259"/><use href="#s32" x="115" y="259"/><use href="#s28" x="127" y="259"/><use href="#s53" x="133" y="259"/><use href="#s65" x="139" y="259"/><use href="#s64" x="145" y="259"/><use href="#s6c" x="151" y="259"/><use href="#s61" x="157" y="259"/><use href="#s7a" x="163" y="259"/><use href="#s65" x="169" y="259"/><use href="#s63" x="175" y="259"/><use href="#s6b" x="181" y="259"/><use href="#s32" x="187" y="259"/><use href="#s30" x="193" y="259"/><use href="#s32" x="199" y="259"/><use href="#s30" x="205" y="259"/><use href="#s29" x="211" y="259"/><text x="61" y="270" font-size="10" textLength="156" lengthAdjust="spacingAndGlyphs">nsv6585622 (Sedlazeck2020)</text></g>
<g aria-label="nsv6585265 (Sedlazeck2020)"><use href="#s6e" x="61" y="280"/><use href="#s73" x="67" y="280"/><use href="#s76" x="73" y="280"/><use href="#s36" x="79" y="280"/><use href="#s35" x="85" y="280"/><use href="#s38" x="91" y="280"/><use href="#s35" x="97" y="280"/><use href="#s32" x="103" y="280"/><use href="#s36" x="109" y="280"/><use href="#s35" x="115" y="280"/><use href="#s28" x="127" y="280"/><use href="#s53" x="133" y="280"/><use href="#s65" x="139" y="280"/><use href="#s64" x="145" y="280"/><use href="#s6c" x="151" y="280"/><use href="#s61" x="157" y="280"/><use href="#s7a" x="163" y="280"/><use href="#s65" x="169" y="280"/><use href="#s63" x="175" y="280"/><use href="#s6b" x="181" y="280"/><use href="#s32" x="187" y="280"/><use href="#s30" x="193" y="280"/><use href="#s32" x="199" y="280"/><use href="#s30" x="205" y="280"/><use href="#s29" x="211" y="280"/><text x="61" y="291" font-size="10" textLength="156" lengthAdjust="spacingAndGlyphs">nsv6585265 (Sedlazeck2020)</text></g>
<g aria-label="nsv561258 (Cooper2011)"><use href="#s6e" x="61" y="301"/><use href="#s73" x="67" y="301"/><use href="#s76" x="73" y="301"/><use href="#s35" x="79" y="301"/><use href="#s36" x="85" y="301"/><use href="#s31" x="91" y="301"/><use href="#s32" x="97" y="301"/><use href="#s35" x="103" y="301"/><use href="#s38" x="109" y="301"/><use href="#s28" x="121" y="301"/><use href="#s43" x="127" y="301"/><use href="#s6f" x="133" y="301"/><use href="#s6f" x="139" y="301"/><use href="#s70" x="145" y="301"/><use href="#s65" x="151" y="301"/><use href="#s72" x="157" y="301"/><use href="#s32" x="163" y="301"/><use href="#s30" x="169" y="301"/><use href="#s31" x="175" y="301"/><use href="#s31" x="181" y="301"/><use href="#s29" x="187" y="301"/><text x="61" y="312" font-size="10" textLength="132" lengthAdjust="spacingAndGlyphs">nsv561258 (Cooper2011)</text></g>
<g aria-label="nsv6594568 (Sedlazeck2020)"><use href="#s6e" x="591" y="301"/><use href="#s73" x="597" y="301"/><use href="#s76" x="603" y="301"/><use href="#s36" x="609" y="301"/><use href="#s35" x="615" y="301"/><use href="#s39" x="621" y="301"/><use href="#s34" x="627" y="301"/><use href="#s35" x="633" y="301"/><use href="#s36" x="639" y="301"/><use href="#s38" x="645" y="301"/><use href="#s28" x="657" y="301"/><use href="#s53" x="663" y="301"/><use href="#s65" x="669" y="301"/><use href="#s64" x="675" y="301"/><use href="#s6c" x="681" y="301"/><use href="#s61" x="687" y="301"/><use href="#s7a" x="693" y="301"/><use href="#s65" x="699" y="301"/><use href="#s63" x="705" y="301"/><use href="#s6b" x="711" y="301"/><use href="#s32" x="717" y="301"/><use href="#s30" x="723" y="301"/><use href="#s32" x="729" y="301"/><use href="#s30" x="735" y="301"/><use href="#s29" x="741" y="301"/><text x="591" y="312" font-size="10" textLength="156" lengthAdjust="spacingAndGlyphs">nsv6594568 (Sedlazeck2020)</text></g>
<g aria-label="nsv528469"><use href="#s6e" x="857" y="301"/><use href="#s73" x="863" y="301"/><use href="#s76" x="869" y="301"/><use href="#s35" x="875" y="301"/><use href="#s32" x="881" y="301"/><use href="#s38" x="887" y="301"/><use href="#s34" x="893" y="301"/><use href="#s36" x="899" y="301"/><use href="#s39" x="905" y="301"/><text x="857" y="312" font-size="10" textLength="54" lengthAdjust="spacingAndGlyphs">nsv528469</text></g>
<g aria-label="nsv4224102 (gnomADStructuralVariants)"><use href="#s6e" x="61" y="322"/><use href="#s73" x="67" y="322"/><use href="#s76" x="73" y="322"/><use href="#s34" x="79" y="322"/><use href="#s32" x="85" y="322"/><use href="#s32" x="91" y="322"/><use href="#s34" x="97" y="322"/><use href="#s31" x="103" y="322"/><use href="#s30" x="109" y="322"/><use href="#s32" x="115" y="322"/><use href="#s28" x="127" y="322"/><use href="#s67" x="133" y="322"/><use href="#s6e" x="139" y="322"/><use href="#s6f" x="145" y="322"/><use href="#s6d" x="151" y="322"/><use href="#s41" x="157" y="322"/><use href="#s44" x="163" y="322"/><use href="#s53" x="169" y="322"/><use href="#s74" x="175" y="322"/><use href="#s72" x="181" y="322"/><use href="#s75" x="187" y="322"/><use href="#s63" x="193" y="322"/><use href="#s74" x="199" y="322"/><use href="#s75" x="205" y="322"/><use href="#s72" x="211" y="322"/><use href="#s61" x="217" y="322"/><use href="#s6c" x="223" y="322"/><use href="#s56" x="229" y="322"/><use href="#s61" x="235" y="322"/><use href="#s72" x="241" y="322"/><use href="#s69" x="247" y="322"/><use href="#s61" x="253" y="322"/><use href="#s6e" x="259" y="322"/><use href="#s74" x="265" y="322"/><use href="#s73" x="271" y="322"/><use href="#s29" x="277" y="322"/><text x="61" y="333" font-size="10" textLength="222" lengthAdjust="spacingAndGlyphs">nsv4224102 (gnomADStructuralVariants)</text></g>
<g aria-label="esv3631465 (1000GenomesConsortiumPhase3)"><use href="#s65" x="320" y="322"/><use href="#s73" x="326" y="322"/><use href="#s76" x="332" y="322"/><use href="#s33" x="338" y="322"/><use href="#s36" x="344" y="322"/><use href="#s33" x="350" y="322"/><use href="#s31" x="356" y="322"/><use href="#s34" x="362" y="322"/><use href="#s36" x="368" y="322"/><use href="#s35" x="374" y="322"/><use href="#s28" x="386" y="322"/><use href="#s31" x="392" y="322"/><use href="#s30" x="398" y="322"/><use href="#s30" x="404" y="322"/><use href="#s30" x="410" y="322"/><use href="#s47" x="416" y="322"/><use href="#s65" x="422" y="322"/><use href="#s6e" x="428" y="322"/><use href="#s6f" x="434" y="322"/><use href="#s6d" x="440" y="322"/><use href="#s65" x="446" y="322"/><use href="#s73" x="452" y="322"/><use href="#s43" x="458" y="322"/><use href="#s6f" x="464" y="322"/><use href="#s6e" x="470" y="322"/><use href="#s73" x="476" y="322"/><use href="#s6f" x="482" y="322"/><use href="#s72" x="488" y="322"/><use href="#s74" x="494" y="322"/><use href="#s69" x="500" y="322"/><use href="#s75" x="506" y="322"/><use href="#s6d" x="512" y="322"/><use href="#s50" x="518" y="322"/><use href="#s68" x="524" y="322"/><use href="#s61" x="530" y="322"/><use href="#s73" x="536" y="322"/><use href="#s65" x="542" y="322"/><use href="#s33" x="548" y="322"/><use href="#s29" x="554" y="322"/><text x="320" y="333" font-size="10" textLength="240" lengthAdjust="spacingAndGlyphs">esv3631465 (1000GenomesConsortiumPhase3)</text></g>
<g aria-label="nsv6248776 (Prakrithi2022)"><use href="#s6e" x="704" y="322"/><use href="#s73" x="710" y="322"/><use href="#s76" x="716" y="322"/><use href="#s36" x="722" y="322"/><use href="#s32" x="728" y="322"/><use href="#s34" x="734" y="322"/><use href="#s38" x="740" y="322"/><use href="#s37" x="746" y="322"/><use href="#s37" x="752" y="322"/><use href="#s36" x="758" y="322"/><use href="#s28" x="770" y="322"/><use href="#s50" x="776" y="322"/><use href="#s72" x="782" y="322"/><use href="#s61" x="788" y="322"/><use href="#s6b" x="794" y="322"/><use href="#s72" x="800" y="322"/><use href="#s69" x="806" y="322"/><use href="#s74" x="812" y="322"/><use href="#s68" x="818" y="322"/><use href="#s69" x="824" y="322"/><use href="#s32" x="830" y="322"/><use href="#s30" x="836" y="322"/><use href="#s32" x="842" y="322"/><use href="#s32" x="848" y="322"/><use href="#s29" x="854" y="322"/><text x="704" y="333" font-size="10" textLength="156" lengthAdjust="spacingAndGlyphs">nsv6248776 (Prakrithi2022)</text></g>
<g aria-label="nsv5851614 (Almarri2020)"><use href="#s6e" x="61" y="343"/><use href="#s73" x="67" y="343"/><use href="#s76" x="73" y="343"/><use href="#s35" x="79" y="343"/><use href="#s38" x="85" y="343"/><use href="#s35" x="91" y="343"/><use href="#s31" x="97" y="343"/><use href="#s36" x="103" y="343"/><use href="#s31" x="109" y="343"/><use href="#s34" x="115" y="343"/><use href="#s28" x="127" y="343"/><use href="#s41" x="133" y="343"/><use href="#s6c" x="139" y="343"/><use href="#s6d" x="145" y="343"/><use href="#s61" x="151" y="343"/><use href="#s72" x="157" y="343"/><use href="#s72" x="163" y="343"/><use href="#s69" x="169" y="343"/><use href="#s32" x="175" y="343"/><use href="#s30" x="181" y="343"/><use href="#s32" x="187" y="343"/><use href="#s30" x="193" y="343"/><use href="#s29" x="199" y="343"/><text x="61" y="354" font-size="10" textLength="144" lengthAdjust="spacingAndGlyphs">nsv5851614 (Almarri2020)</text></g>
<g aria-label="nsv5507892 (ByrskaBishop2022)"><use href="#s6e" x="344" y="343"/><use href="#s73" x="350" y="343"/><use href="#s76" x="356" y="343"/><use href="#s35" x="362" y="343"/><use href="#s35" x="368" y="343"/><use href="#s30" x="374" y="343"/><use href="#s37" x="380" y="343"/><use href="#s38" x="386" y="343"/><use href="#s39" x="392" y="343"/><use href="#s32" x="398" y="343"/><use href="#s28" x="410" y="343"/><use href="#s42" x="416" y="343"/><use href="#s79" x="422" y="343"/><use href="#s72" x="428" y="343"/><use href="#s73" x="434" y="343"/><use href="#s6b" x="440" y="343"/><use href="#s61" x="446" y="343"/><use href="#s42" x="452" y="343"/><use href="#s69" x="458" y="343"/><use href="#s73" x="464" y="343"/><use href="#s68" x="470" y="343"/><use href="#s6f" x="476" y="343"/><use href="#s70" x="482" y="343"/><use href="#s32" x="488" y="343"/><use href="#s30" x="494" y="343"/><use href="#s32" x="500" y="343"/><use href="#s32" x="506" y="343"/><use href="#s29" x="512" y="343"/><text x="344" y="354" font-size="10" textLength="174" lengthAdjust="spacingAndGlyphs">nsv5507892 (ByrskaBishop2022)</text></g>
<g aria-label="nsv477445 (Kidd2010)"><use href="#s6e" x="529" y="343"/><use href="#s73" x="535" y="343"/><use href="#s76" x="541" y="343"/><use href="#s34" x="547" y="343"/><use href="#s37" x="553" y="343"/><use href="#s37" x="559" y="343"/><use href="#s34" x="565" y="343"/><use href="#s34" x="571" y="343"/><use href="#s35" x="577" y="343"/><use href="#s28" x="589" y="343"/><use href="#s4b" x="595" y="343"/><use href="#s69" x="601" y="343"/><use href="#s64" x="607" y="343"/><use href="#s64" x="613" y="343"/><use href="#s32" x="619" y="343"/><use href="#s30" x="625" y="343"/><use href="#s31" x="631" y="343"/><use href="#s30" x="637" y="343"/><use href="#s29" x="643" y="343"/><text x="529" y="354" font-size="10" textLength="120" lengthAdjust="spacingAndGlyphs">nsv477445 (Kidd2010)</text></g>
<g aria-label="nsv5504336 (ByrskaBishop2022)"><use href="#s6e" x="61" y="364"/><use href="#s73" x="67" y="364"/><use href="#s76" x="73" y="364"/><use href="#s35" x="79" y="364"/><use href="#s35" x="85" y="364"/><use href="#s30" x="91" y="364"/><use href="#s34" x="97" y="364"/><use href="#s33" x="103" y="364"/><use href="#s33" x="109" y="364"/><use href="#s36" x="115" y="364"/><use href="#s28" x="127" y="364"/><use href="#s42" x="133" y="364"/><use href="#s79" x="139" y="364"/><use href="#s72" x="145" y="364"/><use href="#s73" x="151" y="364"/><use href="#s6b" x="157" y="364"/><use href="#s61" x="163" y="364"/><use href="#s42" x="169" y="364"/><use href="#s69" x="175" y="364"/><use href="#s73" x="181" y="364"/><use href="#s68" x="187" y="364"/><use href="#s6f" x="193" y="364"/><use href="#s70" x="199" y="364"/><use href="#s32" x="205" y="364"/><use href="#s30" x="211" y="364"/><use href="#s32" x="217" y="364"/><use href="#s32" x="223" y="364"/><use href="#s29" x="229" y="364"/><text x="61" y="375" font-size="10" textLength="174" lengthAdjust="spacingAndGlyphs">nsv5504336 (ByrskaBishop2022)</text></g>
<g aria-label="nsv5933421 (Almarri2020)"><use href="#s6e" x="61" y="385"/><use href="#s73" x="67" y="385"/><use href="#s76" x="73" y="385"/><use href="#s35" x="79" y="385"/><use href="#s39" x="85" y="385"/><use href="#s33" x="91" y="385"/><use href="#s33" x="97" y="385"/><use href="#s34" x="103" y="385"/><use href="#s32" x="109" y="385"/><use href="#s31" x="115" y="385"/><use href="#s28" x="127" y="385"/><use href="#s41" x="133" y="385"/><use href="#s6c" x="139" y="385"/><use href="#s6d" x="145" y="385"/><use href="#s61" x="151" y="385"/><use href="#s72" x="157" y="385"/><use href="#s72" x="163" y="385"/><use href="#s69" x="169" y="385"/><use href="#s32" x="175" y="385"/><use href="#s30" x="181" y="385"/><use href="#s32" x="187" y="385"/><use href="#s30" x="193" y="385"/><use href="#s29" x="199" y="385"/><text x="61" y="396" font-size="10" textLength="144" lengthAdjust="spacingAndGlyphs">nsv5933421 (Almarri2020)</text></g>
<g aria-label="esv3550149 (Boomsma2014)"><use href="#s65" x="353" y="385"/><use href="#s73" x="359" y="385"/><use href="#s76" x="365" y="385"/><use href="#s33" x="371" y="385"/><use href="#s35" x="377" y="385"/><use href="#s35" x="383" y="385"/><use href="#s30" x="389" y="385"/><use href="#s31" x="395" y="385"/><use href="#s34" x="401" y="385"/><use href="#s39" x="407" y="385"/><use href="#s28" x="419" y="385"/><use href="#s42" x="425" y="385"/><use href="#s6f" x="431" y="385"/><use href="#s6f" x="437" y="385"/><use href="#s6d" x="443" y="385"/><use href="#s73" x="449" y="385"/><use href="#s6d" x="455" y="385"/><use href="#s61" x="461" y="385"/><use href="#s32" x="467" y="385"/><use href="#s30" x="473" y="385"/><use href="#s31" x="479" y="385"/><use href="#s34" x="485" y="385"/><use href="#s29" x="491" y="385"/><text x="353" y="396" font-size="10" textLength="144" lengthAdjust="spacingAndGlyphs">esv3550149 (Boomsma2014)</text></g>
<g aria-label="nsv983558 (Sudmant2013)"><use href="#s6e" x="514" y="385"/><use href="#s73" x="520" y="385"/><use href="#s76" x="526" y="385"/><use href="#s39" x="532" y="385"/><use href="#s38" x="538" y="385"/><use href="#s33" x="544" y="385"/><use href="#s35" x="550" y="385"/><use href="#s35" x="556" y="385"/><use href="#s38" x="562" y="385"/><use href="#s28" x="574" y="385"/><use href="#s53" x="580" y="385"/><use href="#s75" x="586" y="385"/><use href="#s64" x="592" y="385"/><use href="#s6d" x="598" y="385"/><use href="#s61" x="604" y="385"/><use href="#s6e" x="610" y="385"/><use href="#s74" x="616" y="385"/><use href="#s32" x="622" y="385"/><use href="#s30" x="628" y="385"/><use href="#s31" x="634" y="385"/><use href="#s33" x="640" y="385"/><use href="#s29" x="646" y="385"/><text x="514" y="396" font-size="10" textLength="138" lengthAdjust="spacingAndGlyphs">nsv983558 (Sudmant2013)</text></g>
<g aria-label="esv3631464 (1000GenomesConsortiumPhase3)"><use href="#s65" x="61" y="406"/><use href="#s73" x="67" y="406"/><use href="#s76" x="73" y="406"/><use href="#s33" x="79" y="406"/><use href="#s36" x="85" y="406"/><use href="#s33" x="91" y="406"/><use href="#s31" x="97" y="406"/><use href="#s34" x="103" y="406"/><use href="#s36" x="109" y="406"/><use href="#s34" x="115" y="406"/><use href="#s28" x="127" y="406"/><use href="#s31" x="133" y="406"/><use href="#s30" x="139" y="406"/><use href="#s30" x="145" y="406"/><use href="#s30" x="151" y="406"/><use href="#s47" x="157" y="406"/><use href="#s65" x="163" y="406"/><use href="#s6e" x="169" y="406"/><use href="#s6f" x="175" y="406"/><use href="#s6d" x="181" y="406"/><use href="#s65" x="187" y="406"/><use href="#s73" x="193" y="406"/><use href="#s43" x="199" y="406"/><use href="#s6f" x="205" y="406"/><use href="#s6e" x="211" y="406"/><use href="#s73" x="217" y="406"/><use href="#s6f" x="223" y="406"/><use href="#s72" x="229" y="406"/><use href="#s74" x="235" y="406"/><use href="#s69" x="241" y="406"/><use href="#s75" x="247" y="406"/><use href="#s6d" x="253" y="406"/><use href="#s50" x="259" y="406"/><use href="#s68" x="265" y="406"/><use href="#s61" x="271" y="406"/><use href="#s73" x="277" y="406"/><use href="#s65" x="283" y="406"/><use href="#s33" x="289" y="406"/><use href="#s29" x="295" y="406"/><text x="61" y="417" font-size="10" textLength="240" lengthAdjust="spacingAndGlyphs">esv3631464 (1000GenomesConsortiumPhase3)</text></g>
<g aria-label="nsv6593812 (Sedlazeck2020)"><use href="#s6e" x="235" y="427"/><use href="#s73" x="241" y="427"/><use href="#s76" x="247" y="427"/><use href="#s36" x="253" y="427"/><use href="#s35" x="259" y="427"/><use href="#s39" x="265" y="427"/><use href="#s33" x="271" y="427"/><use href="#s38" x="277" y="427"/><use href="#s31" x="283" y="427"/><use href="#s32" x="289" y="427"/><use href="#s28" x="301" y="427"/><use href="#s53" x="307" y="427"/><use href="#s65" x="313" y="427"/><use href="#s64" x="319" y="427"/><use href="#s6c" x="325" y="427"/><use href="#s61" x="331" y="427"/><use href="#s7a" x="337" y="427"/><use href="#s65" x="343" y="427"/><use href="#s63" x="349" y="427"/><use href="#s6b" x="355" y="427"/><use href="#s32" x="361" y="427"/><use href="#s30" x="367" y="427"/><use href="#s32" x="373" y="427"/><use href="#s30" x="379" y="427"/><use href="#s29" x="385" y="427"/><text x="235" y="438" font-size="10" textLength="156" lengthAdjust="spacingAndGlyphs">nsv6593812 (Sedlazeck2020)</text></g>
<g aria-label="esv2677944 (1000GenomesConsortiumPhase1)"><use href="#s65" x="354" y="448"/><use href="#s73" x="360" y="448"/><use href="#s76" x="366" y="448"/><use href="#s32" x="372" y="448"/><use href="#s36" x="378" y="448"/><use href="#s37" x="384" y="448"/><use href="#s37" x="390" y="448"/><use href="#s39" x="396" y="448"/><use href="#s34" x="402" y="448"/><use href="#s34" x="408" y="448"/><use href="#s28" x="420" y="448"/><use href="#s31" x="426" y="448"/><use href="#s30" x="432" y="448"/><use href="#s30" x="438" y="448"/><use href="#s30" x="444" y="448"/><use href="#s47" x="450" y="448"/><use href="#s65" x="456" y="448"/><use href="#s6e" x="462" y="448"/><use href="#s6f" x="468" y="448"/><use href="#s6d" x="474" y="448"/><use href="#s65" x="480" y="448"/><use href="#s73" x="486" y="448"/><use href="#s43" x="492" y="448"/><use href="#s6f" x="498" y="448"/><use href="#s6e" x="504" y="448"/><use href="#s73" x="510" y="448"/><use href="#s6f" x="516" y="448"/><use href="#s72" x="522" y="448"/><use href="#s74" x="528" y="448"/><use href="#s69" x="534" y="448"/><use href="#s75" x="540" y="448"/><use href="#s6d" x="546" y="448"/><use href="#s50" x="552" y="448"/><use href="#s68" x="558" y="448"/><use href="#s61" x="564" y="448"/><use href="#s73" x="570" y="448"/><use href="#s65" x="576" y="448"/><use href="#s31" x="582" y="448"/><use href="#s29" x="588" y="448"/><text x="354" y="459" font-size="10" textLength="240" lengthAdjust="spacingAndGlyphs">esv2677944 (1000GenomesConsortiumPhase1)</text></g>
<g aria-label="nsv5602461 (Ebert2021)"><use href="#s6e" x="354" y="469"/><use href="#s73" x="360" y="469"/><use href="#s76" x="366" y="469"/><use href="#s35" x="372" y="469"/><use href="#s36" x="378" y="469"/><use href="#s30" x="384" y="469"/><use href="#s32" x="390" y="469"/><use href="#s34" x="396" y="469"/><use href="#s36" x="402" y="469"/><use href="#s31" x="408" y="469"/><use href="#s28" x="420" y="469"/><use href="#s45" x="426" y="469"/><use href="#s62" x="432" y="469"/><use href="#s65" x="438" y="469"/><use href="#s72" x="444" y="469"/><use href="#s74" x="450" y="469"/><use href="#s32" x="456" y="469"/><use href="#s30" x="462" y="469"/><use href="#s32" x="468" y="469"/><use href="#s31" x="474" y="469"/><use href="#s29" x="480" y="469"/><text x="354" y="480" font-size="10" textLength="132" lengthAdjust="spacingAndGlyphs">nsv5602461 (Ebert2021)</text></g>
<g aria-label="nsv5943318 (Almarri2020)"><use href="#s6e" x="354" y="490"/><use href="#s73" x="360" y="490"/><use href="#s76" x="366" y="490"/><use href="#s35" x="372" y="490"/><use href="#s39" x="378" y="490"/><use href="#s34" x="384" y="490"/><use href="#s33" x="390" y="490"/><use href="#s33" x="396" y="490"/><use href="#s31" x="402" y="490"/><use href="#s38" x="408" y="490"/><use href="#s28" x="420" y="490"/><use href="#s41" x="426" y="490"/><use href="#s6c" x="432" y="490"/><use href="#s6d" x="438" y="490"/><use href="#s61" x="444" y="490"/><use href="#s72" x="450" y="490"/><use href="#s72" x="456" y="490"/><use href="#s69" x="462" y="490"/><use href="#s32" x="468" y="490"/><use href="#s30" x="474" y="490"/><use href="#s32" x="480" y="490"/><use href="#s30" x="486" y="490"/><use href="#s29" x="492" y="490"/><text x="354" y="501" font-size="10" textLength="144" lengthAdjust="spacingAndGlyphs">nsv5943318 (Almarri2020)</text></g>
<g aria-label="nsv6477773 (Sedlazeck2020)"><use href="#s6e" x="354" y="511"/><use href="#s73" x="360" y="511"/><use href="#s76" x="366" y="511"/><use href="#s36" x="372" y="511"/><use href="#s34" x="378" y="511"/><use href="#s37" x="384" y="511"/><use href="#s37" x="390" y="511"/><use href="#s37" x="396" y="511"/><use href="#s37" x="402" y="511"/><use href="#s33" x="408" y="511"/><use href="#s28" x="420" y="511"/><use href="#s53" x="426" y="511"/><use href="#s65" x="432" y="511"/><use href="#s64" x="438" y="511"/><use href="#s6c" x="444" y="511"/><use href="#s61" x="450" y="511"/><use href="#s7a" x="456" y="511"/><use href="#s65" x="462" y="511"/><use href="#s63" x="468" y="511"/><use href="#s6b" x="474" y="511"/><use href="#s32" x="480" y="511"/><use href="#s30" x="486" y="511"/><use href="#s32" x="492" y="511"/><use href="#s30" x="498" y="511"/><use href="#s29" x="504" y="511"/><text x="354" y="522" font-size="10" textLength="156" lengthAdjust="spacingAndGlyphs">nsv6477773 (Sedlazeck2020)</text></g>
<g aria-label="nsv4530058 (gnomADStructuralVariants)"><use href="#s6e" x="355" y="532"/><use href="#s73" x="361" y="532"/><use href="#s76" x="367" y="532"/><use href="#s34" x="373" y="532"/><use href="#s35" x="379" y="532"/><use href="#s33" x="385" y="532"/><use href="#s30" x="391" y="532"/><use href="#s30" x="397" y="532"/><use href="#s35" x="403" y="532"/><use href="#s38" x="409" y="532"/><use href="#s28" x="421" y="532"/><use href="#s67" x="427" y="532"/><use href="#s6e" x="433" y="532"/><use href="#s6f" x="439" y="532"/><use href="#s6d" x="445" y="532"/><use href="#s41" x="451" y="532"/><use href="#s44" x="457" y="532"/><use href="#s53" x="463" y="532"/><use href="#s74" x="469" y="532"/><use href="#s72" x="475" y="532"/><use href="#s75" x="481" y="532"/><use href="#s63" x="487" y="532"/><use href="#s74" x="493" y="532"/><use href="#s75" x="499" y="532"/><use href="#s72" x="505" y="532"/><use href="#s61" x="511" y="532"/><use href="#s6c" x="517" y="532"/><use href="#s56" x="523" y="532"/><use href="#s61" x="529" y="532"/><use href="#s72" x="535" y="532"/><use href="#s69" x="541" y="532"/><use href="#s61" x="547" y="532"/><use href="#s6e" x="553" y="532"/><use href="#s74" x="559" y="532"/><use href="#s73" x="565" y="532"/><use href="#s29" x="571" y="532"/><text x="355" y="543" font-size="10" textLength="222" lengthAdjust="spacingAndGlyphs">nsv4530058 (gnomADStructuralVariants)</text></g>
<g aria-label="nsv5852169 (Almarri2020)"><use href="#s6e" x="376" y="553"/><use href="#s73" x="382" y="553"/><use href="#s76" x="388" y="553"/><use href="#s35" x="394" y="553"/><use href="#s38" x="400" y="553"/><use href="#s35" x="406" y="553"/><use href="#s32" x="412" y="553"/><use href="#s31" x="418" y="553"/><use href="#s36" x="424" y="553"/><use href="#s39" x="430" y="553"/><use href="#s28" x="442" y="553"/><use href="#s41" x="448" y="553"/><use href="#s6c" x="454" y="553"/><use href="#s6d" x="460" y="553"/><use href="#s61" x="466" y="553"/><use href="#s72" x="472" y="553"/><use href="#s72" x="478" y="553"/><use href="#s69" x="484" y="553"/><use href="#s32" x="490" y="553"/><use href="#s30" x="496" y="553"/><use href="#s32" x="502" y="553"/><use href="#s30" x="508" y="553"/><use href="#s29" x="514" y="553"/><text x="376" y="564" font-size="10" textLength="144" lengthAdjust="spacingAndGlyphs">nsv5852169 (Almarri2020)</text></g>
<g aria-label="RefSeq Genes"><use href="#b52" x="60" y="609"/><use href="#b65" x="67" y="609"/><use href="#b66" x="74" y="609"/><use href="#b53" x="81" y="609"/><use href="#b65" x="88" y="609"/><use href="#b71" x="95" y="609"/><use href="#b47" x="109" y="609"/><use href="#b65" x="116" y="609"/><use href="#b6e" x="123" y="609"/><use href="#b65" x="130" y="609"/><use href="#b73" x="137" y="609"/><text x="60" y="620" font-size="11.67" font-weight="bold" textLength="84" lengthAdjust="spacingAndGlyphs">RefSeq Genes</text></g>
<g aria-label="MICU2|NM_152726"><use href="#s4d" x="829" y="621"/><use href="#s49" x="835" y="621"/><use href="#s43" x="841" y="621"/><use href="#s55" x="847" y="621"/><use href="#s32" x="853" y="621"/><use href="#s7c" x="859" y="621"/><use href="#s4e" x="865" y="621"/><use href="#s4d" x="871" y="621"/><use href="#s5f" x="877" y="621"/><use href="#s31" x="883" y="621"/><use href="#s35" x="889" y="621"/><use href="#s32" x="895" y="621"/><use href="#s37" x="901" y="621"/><use href="#s32" x="907" y="621"/><use href="#s36" x="913" y="621"/><text x="829" y="632" font-size="10" textLength="90" lengthAdjust="spacingAndGlyphs">MICU2|NM_152726</text></g>
</g>
</svg>
</body></html>
